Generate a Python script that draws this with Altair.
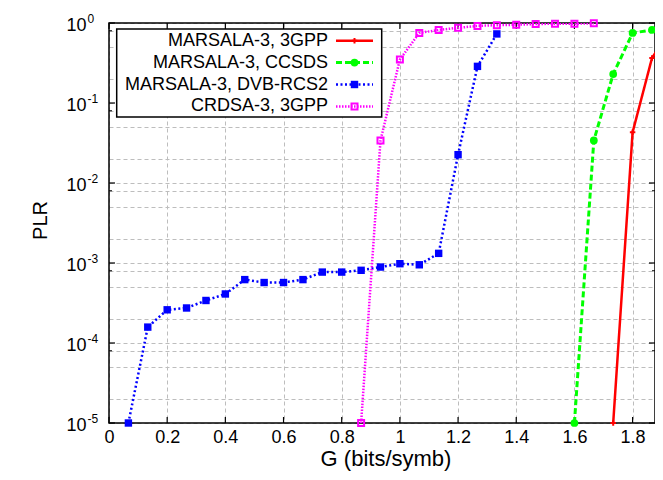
import altair as alt
import pandas as pd

# ---------------- data ----------------
series = ["MARSALA-3, 3GPP", "MARSALA-3, CCSDS", "MARSALA-3, DVB-RCS2", "CRDSA-3, 3GPP"]
colors = ["#ff0000", "#00ff00", "#0000ff", "#ff00ff"]

g_marsala_3gpp = [1.7333, 1.8, 1.8667, 1.9333]
plr_marsala_3gpp = [1e-5, 0.043, 0.365, 0.85]

g_marsala_ccsds = [1.6, 1.6667, 1.7333, 1.8, 1.8667]
plr_marsala_ccsds = [1e-5, 0.034, 0.23, 0.75, 0.82]

g_marsala_dvb = [0.0667, 0.1333, 0.2, 0.2667, 0.3333, 0.4, 0.4667, 0.5333, 0.6, 0.6667,
                 0.7333, 0.8, 0.8667, 0.9333, 1.0, 1.0667, 1.1333, 1.2, 1.2667, 1.3333]
plr_marsala_dvb = [1e-5, 1.58e-4, 2.6e-4, 2.74e-4, 3.4e-4, 4.1e-4, 6.2e-4, 5.7e-4, 5.7e-4, 6.2e-4,
                   7.7e-4, 7.7e-4, 8.1e-4, 8.9e-4, 9.8e-4, 9.5e-4, 1.32e-3, 0.0226, 0.287, 0.73]

g_crdsa_3gpp = [0.8667, 0.9333, 1.0, 1.0667, 1.1333, 1.2, 1.2667, 1.3333, 1.4, 1.4667,
                1.5333, 1.6, 1.6667]
plr_crdsa_3gpp = [1e-5, 0.034, 0.35, 0.75, 0.82, 0.87, 0.92, 0.94, 0.95, 0.97,
                  0.98, 0.98, 0.99]

x_ticks = [0, 0.2, 0.4, 0.6, 0.8, 1, 1.2, 1.4, 1.6, 1.8]
y_major = [1, 1e-1, 1e-2, 1e-3, 1e-4, 1e-5]
y_exponents = ["0", "-1", "-2", "-3", "-4", "-5"]
y_minor_factors = [0.8, 0.5, 0.2]

# ---------------- layout / style ----------------
W, H = 546, 400
X_MAX = 1.877
FONT = "Liberation Sans"
GRID = "#bdbdbd"

y_grid = list(y_major) + [f * m for m in y_major[:-1] for f in y_minor_factors]
y_minor_ticks = [0.8 * m for m in y_major[:-1]]

xs = alt.Scale(domain=[0, X_MAX], nice=False, zero=False)
ys = alt.Scale(type="log", domain=[1e-5, 1], nice=False)

x_axis = alt.Axis(values=x_ticks, format="~g", title="G (bits/symb)", grid=True,
                  gridColor=GRID, gridDash=[4, 3], gridWidth=1, ticks=False, domain=False,
                  labelFont=FONT, labelFontSize=18, labelColor="black", labelPadding=5,
                  labelFlush=False, labelOverlap=False,
                  titleFont=FONT, titleFontSize=22, titleFontWeight="normal", titleColor="black",
                  titleX=276.5, titleY=42.5, titleAlign="center", titleBaseline="alphabetic")
y_axis = alt.Axis(values=y_grid, title="PLR", grid=True,
                  labelExpr="abs(log(datum.value)/LN10 - round(log(datum.value)/LN10)) < 0.001 ? '10' : ''",
                  gridColor=GRID, gridDash=[4, 3], gridWidth=1, ticks=False, domain=False,
                  labelFont=FONT, labelFontSize=18, labelColor="black", labelPadding=23,
                  labelOffset=2, labelOverlap=False, labelBaseline="middle",
                  titleFont=FONT, titleFontSize=20, titleFontWeight="normal", titleColor="black",
                  titleX=-69, titleY=197, titleAngle=-90, titleAlign="center",
                  titleBaseline="middle")

X = alt.X("G:Q", scale=xs, axis=x_axis)
Y = alt.Y("PLR:Q", scale=ys, axis=y_axis)

one = pd.DataFrame({"a": [0]})

# frame (under data, over grid)
frame = alt.Chart(one).mark_rect(fill="white", fillOpacity=0, stroke="black", strokeWidth=1.5).encode(
    x=alt.value(0), x2=alt.value(W), y=alt.value(0), y2=alt.value(H))

xt_df = pd.DataFrame({"G": x_ticks})
yt_df = pd.DataFrame({"PLR": y_major})
ymt_df = pd.DataFrame({"PLR": y_minor_ticks})

tick_layers = [
    alt.Chart(xt_df).mark_rule(color="black", strokeWidth=1.2).encode(x=X, y=alt.value(H), y2=alt.value(H - 6)),
    alt.Chart(xt_df).mark_rule(color="black", strokeWidth=1.2).encode(x=X, y=alt.value(0), y2=alt.value(6)),
    alt.Chart(yt_df).mark_rule(color="black", strokeWidth=1.2).encode(y=Y, x=alt.value(0), x2=alt.value(6)),
    alt.Chart(yt_df).mark_rule(color="black", strokeWidth=1.2).encode(y=Y, x=alt.value(W), x2=alt.value(W - 6)),
    alt.Chart(ymt_df).mark_rule(color="black", strokeWidth=1).encode(y=Y, x=alt.value(0), x2=alt.value(3)),
    alt.Chart(ymt_df).mark_rule(color="black", strokeWidth=1).encode(y=Y, x=alt.value(W), x2=alt.value(W - 3)),
]

exp_df = pd.DataFrame({"PLR": y_major, "exp": y_exponents})
exponents = alt.Chart(exp_df).mark_text(align="left", baseline="middle", font=FONT, fontSize=12,
                                        color="black", dy=-4).encode(
    x=alt.value(-21.5), y=Y, text="exp:N")

gs = [g_marsala_3gpp, g_marsala_ccsds, g_marsala_dvb, g_crdsa_3gpp]
ps = [plr_marsala_3gpp, plr_marsala_ccsds, plr_marsala_dvb, plr_crdsa_3gpp]
styles = [
    dict(width=2.5, dash=[1, 0], shape="M-1,0H1M0,-1V1", filled=False, size=30, sw=2),
    dict(width=3, dash=[6, 3], shape="circle", filled=True, size=60, sw=0),
    dict(width=2.5, dash=[2, 2.5], shape="square", filled=True, size=55, sw=0),
    dict(width=2.5, dash=[1.5, 1.5], shape="square", filled=False, size=36, sw=2),
]

data_layers = []
point_layers = []
for name, col, g, p, st in zip(series, colors, gs, ps, styles):
    df = pd.DataFrame({"G": g, "PLR": p, "series": name})
    data_layers.append(alt.Chart(df).mark_line(color=col, strokeWidth=st["width"],
                                               strokeDash=st["dash"], clip=True).encode(x=X, y=Y))
    point_layers.append(alt.Chart(df).mark_point(color=col, shape=st["shape"], filled=st["filled"],
                                                 size=st["size"], strokeWidth=st["sw"],
                                                 opacity=1).encode(x=X, y=Y))

main = alt.layer(frame, *tick_layers, *data_layers, *point_layers, exponents)

# ---------------- custom legend ----------------
leg_df = pd.DataFrame({"series": series, "row": list(range(len(series)))})
LY = alt.Y("row:Q", scale=alt.Scale(domain=[0, 3], range=[17.7, 83.4]), axis=None)

legend_box = alt.Chart(one).mark_rect(fill="white", stroke="black", strokeWidth=1.5).encode(
    x=alt.value(7.7), x2=alt.value(272.7), y=alt.value(6), y2=alt.value(94))
legend_text = alt.Chart(leg_df).mark_text(align="right", baseline="middle", font=FONT, fontSize=18,
                                          color="black").encode(
    x=alt.value(219), y=LY, text="series:N")
legend_parts = [legend_box, legend_text]
for i, (name, col, st) in enumerate(zip(series, colors, styles)):
    sub = leg_df[leg_df["row"] == i]
    legend_parts.append(alt.Chart(sub).mark_rule(color=col, strokeWidth=st["width"],
                                                 strokeDash=st["dash"]).encode(
        x=alt.value(227), x2=alt.value(264), y=LY))
    legend_parts.append(alt.Chart(sub).mark_point(color=col, shape=st["shape"], filled=st["filled"],
                                                  size=st["size"], strokeWidth=st["sw"],
                                                  opacity=1).encode(
        x=alt.value(245.5), y=LY))
legend = alt.layer(*legend_parts)

chart = alt.layer(main, legend).resolve_scale(y="independent").properties(
    width=W, height=H,
    padding={"left": 101, "top": 15, "right": 0, "bottom": 48},
    autosize=alt.AutoSizeParams(type="none"),
    background="white",
).configure_view(strokeWidth=0)

chart.save("out.html", embed_options={"renderer": "svg", "actions": False})
